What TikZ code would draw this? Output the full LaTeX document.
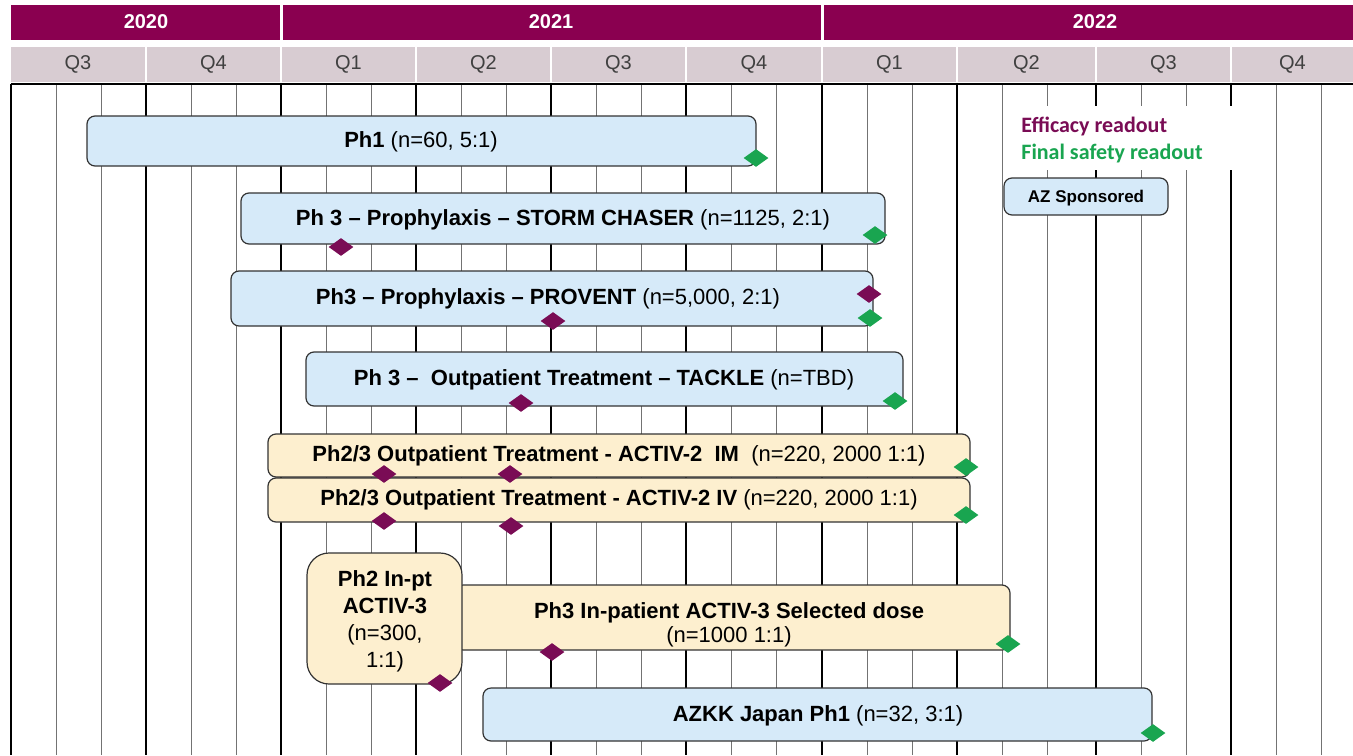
\documentclass[tikz,border=0pt]{standalone}
\usepackage{fontspec}
\setmainfont{Liberation Sans}
\newfontfamily\legendfont{Carlito}
\usetikzlibrary{fit,shapes.geometric}

\definecolor{yearpurple}{RGB}{138,0,80}
\definecolor{qgray}{RGB}{216,204,210}
\definecolor{azblue}{RGB}{214,234,249}
\definecolor{partnerbeige}{RGB}{253,239,207}
\definecolor{effpurple}{RGB}{122,12,85}
\definecolor{safegreen}{RGB}{25,165,80}

\begin{document}
\begin{tikzpicture}[x=0.5pt,y=-0.5pt,
    yearcell/.style={fill=yearpurple,inner sep=0pt},
    yeartext/.style={inner sep=0pt,text=white,font=\bfseries\fontsize{10}{12}\selectfont},
    qcell/.style={fill=qgray,inner sep=0pt},
    qtext/.style={inner sep=0pt,text=black!75,font=\fontsize{10}{12}\selectfont},
    monthline/.style={black!55,line width=0.5pt},
    quarterline/.style={black,line width=0.6pt},
    azbox/.style={draw=black!80,line width=0.6pt,fill=azblue,rounded corners=4pt,inner sep=0pt},
    partnerbox/.style={azbox,fill=partnerbeige},
    bartext/.style={inner sep=0pt,align=center,font=\fontsize{11}{13}\selectfont},
    effmark/.style={diamond,fill=effpurple,inner sep=0pt,minimum width=12.5pt,minimum height=9pt},
    safemark/.style={effmark,fill=safegreen},
    legendtext/.style={anchor=west,inner sep=0pt,font=\legendfont\bfseries\fontsize{11}{13}\selectfont}]
    \useasboundingbox (0,0) rectangle (1353,755);

    % Year header
    \node[yearcell, fit={(11,5) (280,40)}] (y2020) {};
    \node[yearcell, fit={(283,5) (821,40)}] (y2021) {};
    \node[yearcell, fit={(824,5) (1353,40)}] (y2022) {};
    \node[yeartext] (y2020t) at (146,22) {2020};
    \node[yeartext] (y2021t) at (551,22) {2021};
    \node[yeartext] (y2022t) at (1095,22) {2022};

    % Quarter header
    \foreach \a/\b/\q [count=\i] in {11/145/Q3,147/280/Q4,282/415/Q1,417/550/Q2,552/685/Q3,687/821/Q4,823/956/Q1,958/1095/Q2,1097/1230/Q3,1232/1353/Q4}{
        \node[qcell, fit={(\a,47) (\b,82)}] (q\i) {};
        \node[qtext] (q\i t) at (q\i) {\q};
    }

    % Grid
    \foreach \x in {11,146,281,416,551,686,822,957,1096,1231}{
        \draw[monthline] (\x+45,84) -- (\x+45,755);
        \draw[monthline] (\x+90,84) -- (\x+90,755);
        \draw[quarterline] (\x,84) -- (\x,755);
    }
    \draw[quarterline] (11,84) -- (1353,84);

    % Legend background
    \fill[white] (1007,106) rectangle (1234,170);

    % AZ sponsored studies
    \node[azbox, fit={(87,116) (756,166)}] (ph1) {};
    \node[bartext] (ph1t) at (421,142) {\textbf{Ph1} (n=60, 5:1)};
    \node[azbox, fit={(241,193) (885,244)}] (storm) {};
    \node[bartext] (stormt) at (563,220) {\textbf{Ph 3 -- Prophylaxis -- STORM CHASER} (n=1125, 2:1)};
    \node[azbox, fit={(231,271) (873,326)}] (provent) {};
    \node[bartext] (proventt) at (548,299) {\textbf{Ph3 -- Prophylaxis -- PROVENT} (n=5,000, 2:1)};
    \node[azbox, fit={(306,352) (903,406)}] (tackle) {};
    \node[bartext] (tacklet) at (604,380) {\textbf{Ph 3 -- \ Outpatient Treatment -- TACKLE} (n=TBD)};

    % Partner studies
    \node[partnerbox, fit={(268,434) (970,477)}] (activim) {};
    \node[bartext] (activimt) at (activim) {\textbf{Ph2/3 Outpatient Treatment - ACTIV-2\ \ IM}\ \ (n=220, 2000 1:1)};
    \node[partnerbox, fit={(268,478) (970,522)}] (activiv) {};
    \node[bartext] (activivt) at (activiv) {\textbf{Ph2/3 Outpatient Treatment - ACTIV-2 IV} (n=220, 2000 1:1)};
    \node[partnerbox, fit={(455,585) (1010,650)}] (inpt3) {};
    \node[bartext, font=\fontsize{11}{12}\selectfont] (inpt3t) at (729,625) {\textbf{Ph3 In-patient ACTIV-3 Selected dose}\\(n=1000 1:1)};
    \node[partnerbox, rounded corners=11pt, fit={(307,553) (462,684)}] (inpt2) {};
    \node[bartext, font=\fontsize{11}{13.5}\selectfont] (inpt2t) at (385,621) {\textbf{Ph2 In-pt}\\\textbf{ACTIV-3}\\(n=300,\\1:1)};
    \node[azbox, fit={(483,688) (1152,741)}] (azkk) {};
    \node[bartext] (azkkt) at (818,716) {\textbf{AZKK Japan Ph1} (n=32, 3:1)};

    % Efficacy readouts
    \node[effmark] (e1) at (341,247) {};
    \node[effmark] (e2) at (553,321) {};
    \node[effmark] (e3) at (869,294) {};
    \node[effmark] (e4) at (521,403) {};
    \node[effmark] (e5) at (384,474) {};
    \node[effmark] (e6) at (510,474) {};
    \node[effmark] (e7) at (384,521) {};
    \node[effmark] (e8) at (511,526) {};
    \node[effmark] (e9) at (440,683) {};
    \node[effmark] (e10) at (552,652) {};

    % Final safety readouts
    \node[safemark] (s1) at (756,158) {};
    \node[safemark] (s2) at (875,235) {};
    \node[safemark] (s3) at (870,318) {};
    \node[safemark] (s4) at (895,401) {};
    \node[safemark] (s5) at (966,467) {};
    \node[safemark] (s6) at (966,515) {};
    \node[safemark] (s7) at (1008,644) {};
    \node[safemark] (s8) at (1153,733) {};

    % Legend
    \node[legendtext, text=effpurple] (efflabel) at (1021,126) {Efficacy readout};
    \node[legendtext, text=safegreen] (safelabel) at (1021,154) {Final safety readout};
    \node[azbox, fit={(1004,178) (1168,215)}] (azkey) {};
    \node[bartext, font=\bfseries\fontsize{8.5}{10}\selectfont] (azkeyt) at (1086,198) {AZ Sponsored};
\end{tikzpicture}
\end{document}
